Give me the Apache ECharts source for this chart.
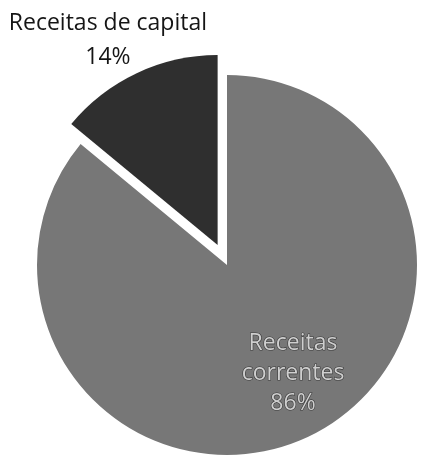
<!DOCTYPE html>
<html>
<head>
<meta charset="utf-8">
<script src="https://cdn.jsdelivr.net/npm/echarts@6/dist/echarts.min.js"></script>
<style>html,body{margin:0;padding:0;background:#fff;}#c{width:422px;height:465px;}</style>
</head>
<body>
<div id="c"></div>
<script>
const categories = ["Receitas correntes", "Receitas de capital"];
const values = [86, 14];
const labelLines = [["Receitas", "correntes", "86%"], ["Receitas de capital", "14%"]];

const chart = echarts.init(document.getElementById('c'));
chart.setOption({
  animation: false,
  series: [{
    type: 'pie',
    center: [227, 265],
    radius: [0, 190],
    startAngle: 90,
    clockwise: true,
    selectedMode: 'multiple',
    selectedOffset: 22,
    labelLine: { show: false },
    data: [
      {
        name: categories[0], value: values[0],
        itemStyle: { color: '#777777' },
        label: {
          show: true, position: 'inside',
          formatter: labelLines[0].join('\n'),
          fontFamily: 'Open Sans', fontSize: 23, lineHeight: 30,
          color: '#cfcfcf', textBorderColor: '#3a3a3a', textBorderWidth: 1.2,
          align: 'center', overflow: 'none'
        }
      },
      {
        name: categories[1], value: values[1], selected: true,
        itemStyle: { color: '#2f2f2f' },
        label: {
          show: true, position: 'inside',
          formatter: labelLines[1].join('\n'),
          fontFamily: 'Open Sans', fontSize: 23, lineHeight: 34,
          color: '#151515', align: 'center', overflow: 'none',
          offset: [-68, -116]
        },
        select: { label: { offset: [-68, -116] } }
      }
    ],
    labelLayout: function (p) {
      if (p.dataIndex === 0) return { x: 293, y: 373, align: 'center', verticalAlign: 'middle' };
      return {};
    }
  }]
});
</script>
</body>
</html>
